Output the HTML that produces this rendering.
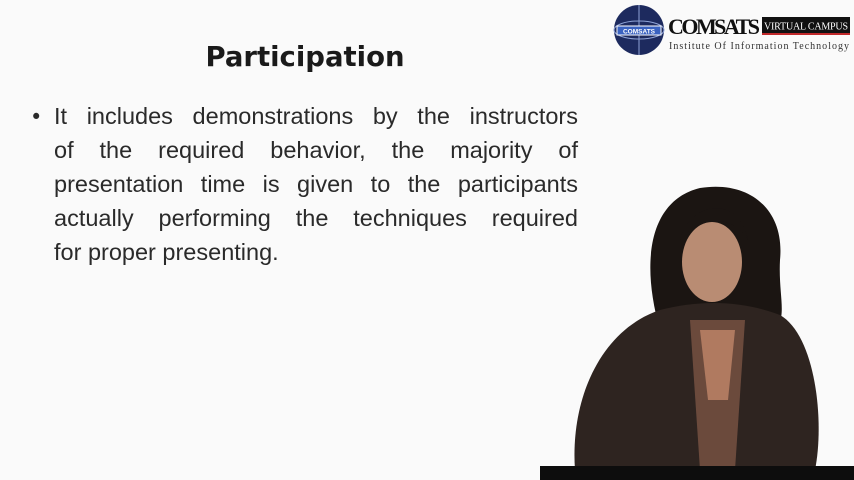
<!DOCTYPE html>
<html><head><meta charset="utf-8"><style>
html,body{margin:0;padding:0}
body{width:854px;height:480px;overflow:hidden;background:#fafafa;position:relative;font-family:"DejaVu Sans",sans-serif}
#title{position:absolute;left:150px;top:41px;width:310px;text-align:center;font-weight:bold;font-size:27.5px;color:#1a1a1a}
#bullets{position:absolute;left:54px;top:99px;width:524px;font-family:"Liberation Sans",sans-serif;font-size:23.5px;line-height:34px;color:#2a2a2a}
#bullets div{text-align:justify;text-align-last:justify;white-space:nowrap;}
#bullets div.last{text-align-last:left}
#dot{position:absolute;left:30px;top:100px;font-size:21px;line-height:34px;color:#2a2a2a}
#logo{position:absolute;left:612px;top:3px;width:242px;height:54px}
</style></head><body>
<div id="title">Participation</div>
<div id="dot">•</div>
<div id="bullets">
<div>It includes demonstrations by the instructors</div>
<div>of the required behavior, the majority of</div>
<div>presentation time is given to the participants</div>
<div>actually performing the techniques required</div>
<div class="last">for proper presenting.</div>
</div>
<svg id="logo" width="242" height="54" viewBox="0 0 242 54">
 <circle cx="27" cy="27" r="25" fill="#1d2a5e"/>
 <ellipse cx="27" cy="27" rx="25" ry="9" fill="none" stroke="#8fa3d6" stroke-width="1"/>
 <line x1="27" y1="2" x2="27" y2="52" stroke="#8fa3d6" stroke-width="1"/>
 <rect x="5" y="23" width="44" height="9" fill="#3a62c0" stroke="#fff" stroke-width="1"/>
 <text x="27" y="30.5" font-size="6.5" font-weight="bold" fill="#fff" text-anchor="middle" font-family="Liberation Sans">COMSATS</text>
 <text x="56" y="31" font-size="22" font-family="Liberation Serif" font-weight="bold" fill="#111" textLength="92">COMSATS</text>
 <rect x="150" y="14" width="88" height="16" fill="#111"/>
 <rect x="150" y="30" width="88" height="2" fill="#c0282a"/>
 <text x="194" y="26.5" font-size="10" font-family="Liberation Serif" fill="#fff" text-anchor="middle" textLength="84">VIRTUAL CAMPUS</text>
 <text x="57" y="46" font-size="10" font-family="Liberation Serif" fill="#333" textLength="180">Institute Of Information Technology</text>
</svg>
<svg style="position:absolute;left:0;top:0" width="854" height="480">
 <path d="M660 330 C640 260 650 200 700 188 C750 180 785 210 780 260 C778 300 790 320 770 335 Z" fill="#1b1512"/>
 <ellipse cx="712" cy="262" rx="30" ry="40" fill="#b98c73"/>
 <path d="M680 240 C690 200 740 195 748 240 C735 215 700 215 680 240Z" fill="#1b1512"/>
 <path d="M575 470 C570 400 600 330 660 310 C700 300 740 300 780 315 C815 335 825 420 815 470 Z" fill="#2e2420"/>
 <path d="M690 320 L745 320 L735 470 L700 470 Z" fill="#6b4a3c"/>
 <path d="M700 330 L735 330 L728 400 L708 400 Z" fill="#b07a60"/>
 <rect x="540" y="466" width="314" height="14" fill="#0d0d0d"/>
</svg>
</body></html>
